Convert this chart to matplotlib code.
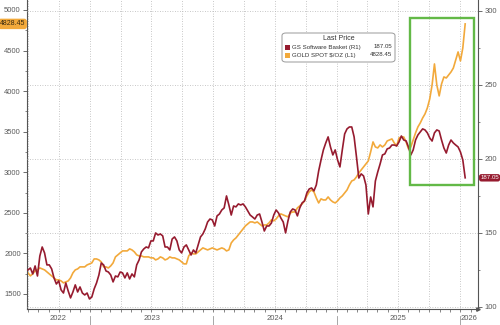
import matplotlib
matplotlib.use("Agg")
import matplotlib.pyplot as plt
import matplotlib.dates as mdates
from matplotlib.patches import Rectangle, FancyBboxPatch
from matplotlib.ticker import MultipleLocator, NullFormatter
import pandas as pd

plt.rcParams["font.family"] = ["Liberation Sans", "DejaVu Sans"]

# weekly closes, Jul 2022 -> mid Jan 2026
dates = pd.date_range("2022-07-01", periods=186, freq="7D")

gold = [
    1760, 1723, 1748, 1785, 1797, 1821, 1809, 1797, 1772, 1748,
    1723, 1698, 1674, 1674, 1661, 1637, 1649, 1661, 1698, 1760,
    1797, 1809, 1834, 1834, 1834, 1858, 1871, 1883, 1932, 1932,
    1920, 1895, 1834, 1834, 1821, 1846, 1883, 1957, 1982, 2006,
    2031, 2031, 2031, 2056, 2043, 2019, 1982, 1969, 1969, 1957,
    1957, 1957, 1945, 1945, 1920, 1932, 1957, 1945, 1920, 1932,
    1957, 1945, 1945, 1932, 1920, 1895, 1871, 1871, 1969, 2006,
    1994, 1994, 2019, 2043, 2068, 2056, 2043, 2056, 2068, 2056,
    2043, 2056, 2068, 2056, 2031, 2043, 2129, 2166, 2191, 2228,
    2265, 2302, 2339, 2364, 2388, 2388, 2376, 2388, 2364, 2339,
    2351, 2351, 2376, 2413, 2401, 2425, 2462, 2487, 2474, 2462,
    2450, 2499, 2511, 2511, 2561, 2585, 2610, 2647, 2709, 2758,
    2782, 2758, 2684, 2622, 2672, 2659, 2659, 2696, 2659, 2635,
    2622, 2647, 2684, 2709, 2745, 2782, 2844, 2893, 2906, 2943,
    2992, 3029, 3066, 3103, 3140, 3251, 3374, 3312, 3300, 3337,
    3312, 3337, 3386, 3398, 3411, 3361, 3325, 3423, 3435, 3435,
    3374, 3288, 3312, 3398, 3485, 3559, 3608, 3669, 3719, 3793,
    3904, 4076, 4335, 4076, 3941, 4088, 4175, 4162, 4199, 4236,
    4285, 4384, 4483, 4372, 4532, 4828.45,
]

gs_software = [
    124.8, 126.1, 122.1, 127.5, 120.7, 134.2, 140.3, 136.3, 128.2, 128.2,
    125.5, 119.4, 115.3, 117.4, 111.3, 109.2, 116.0, 110.6, 105.9, 109.9,
    114.7, 109.9, 113.3, 109.2, 107.9, 109.2, 105.2, 106.5, 112.0, 116.0,
    121.4, 129.5, 128.2, 124.1, 123.4, 121.4, 116.7, 120.7, 120.1, 123.4,
    122.8, 119.4, 122.8, 118.7, 122.1, 120.1, 128.2, 131.5, 137.0, 139.0,
    140.3, 139.7, 144.4, 144.4, 149.8, 148.4, 149.1, 147.8, 140.3, 140.3,
    138.3, 145.7, 147.1, 144.4, 138.3, 136.3, 140.3, 141.7, 138.3, 134.9,
    138.3, 136.3, 141.7, 147.1, 149.1, 152.5, 157.2, 159.2, 158.6, 154.5,
    161.3, 162.6, 165.3, 166.7, 174.8, 168.7, 161.9, 168.0, 167.4, 169.4,
    168.7, 169.4, 167.4, 164.7, 161.9, 160.6, 159.2, 161.9, 162.6, 157.2,
    151.1, 154.5, 154.5, 156.5, 161.9, 165.3, 163.3, 159.9, 157.2, 149.8,
    157.9, 164.0, 166.0, 165.3, 161.3, 166.7, 170.1, 171.4, 176.8, 179.5,
    180.2, 178.2, 182.2, 191.7, 199.1, 205.9, 210.6, 214.7, 207.9, 202.5,
    205.9, 199.1, 194.4, 205.9, 216.7, 220.1, 221.4, 221.4, 214.7, 201.2,
    186.9, 189.7, 188.3, 182.2, 162.6, 174.1, 167.4, 184.9, 191.0, 196.4,
    202.5, 203.2, 206.6, 207.2, 209.2, 209.2, 208.6, 211.3, 215.3, 212.6,
    212.0, 207.9, 202.5, 205.9, 212.6, 216.0, 218.0, 220.1, 219.4, 217.4,
    214.0, 211.9, 217.4, 219.4, 218.7, 212.6, 207.2, 203.8, 209.2, 212.6,
    210.6, 209.2, 207.9, 204.5, 199.1, 187.05,
]

years = ["2022", "2023", "2024", "2025", "2026"]
year_mid = ["2022-09-29", "2023-07-02", "2024-07-01", "2025-07-02", "2026-01-27"]
year_starts = ["2023-01-01", "2024-01-01", "2025-01-01", "2026-01-01"]

red = "#961b2f"
orange = "#f2a93b"
green = "#63b947"
axis_c = "#555555"
tick_c = "#5a5a5a"

fig = plt.figure(figsize=(5, 3.25), dpi=100)
ax = fig.add_axes([27 / 500, 1 - 309 / 325, 451 / 500, 309 / 325])
ax2 = ax.twinx()

ax.plot(dates, gold, color=orange, lw=1.2)
ax2.plot(dates, gs_software, color=red, lw=1.2)

ax.set_xlim(pd.Timestamp("2022-06-28"), pd.Timestamp("2026-02-23"))
ax.set_ylim(1315, 5123)
ax2.set_ylim(98.4, 307.2)

# left axis: gold
ax.yaxis.set_major_locator(MultipleLocator(500))
ax.yaxis.set_minor_locator(MultipleLocator(250))
ax.tick_params(axis="y", which="major", direction="out", length=3, width=0.6,
               color=axis_c, labelsize=5.5, labelcolor=tick_c, pad=1.5)
ax.tick_params(axis="y", which="minor", direction="out", length=1.5, width=0.5, color=axis_c)

# right axis: software basket
ax2.yaxis.set_major_locator(MultipleLocator(50))
ax2.yaxis.set_minor_locator(MultipleLocator(25))
ax2.tick_params(axis="y", which="major", direction="out", length=3, width=0.6,
                color=axis_c, labelsize=5.5, labelcolor=tick_c, pad=1.5)
ax2.tick_params(axis="y", which="minor", direction="out", length=1.5, width=0.5, color=axis_c)

# x axis: monthly ticks, quarterly grid, year labels in between
ax.xaxis.set_major_locator(mdates.MonthLocator(bymonth=[1, 4, 7, 10]))
ax.xaxis.set_minor_locator(mdates.MonthLocator())
ax.xaxis.set_major_formatter(NullFormatter())
ax.tick_params(axis="x", which="both", direction="out", length=2, width=0.5, color=axis_c)
ax.grid(axis="x", which="major", color="#b5b5b5", ls=(0, (1, 2)), lw=0.6)
ax2.grid(axis="y", which="major", color="#b5b5b5", ls=(0, (1, 2)), lw=0.6)

for a in (ax, ax2):
    a.spines["top"].set_visible(False)
    for s in ("left", "right", "bottom"):
        a.spines[s].set_color(axis_c)
        a.spines[s].set_linewidth(0.8)
ax.spines["right"].set_visible(False)
ax2.spines["left"].set_visible(False)
ax2.spines["bottom"].set_visible(False)

xt = ax.get_xaxis_transform()
for lbl, mid in zip(years, year_mid):
    ax.text(pd.Timestamp(mid), -0.03, lbl, transform=xt, ha="center", va="center",
            fontsize=5.5, color=tick_c)
for ys in year_starts:
    ax.plot([pd.Timestamp(ys)] * 2, [-0.024, -0.055], transform=xt, color="#999999",
            lw=0.6, clip_on=False)
ax.plot([1.0], [0.0], marker=">", ms=2.5, color=axis_c, transform=ax.transAxes, clip_on=False)

# last value tags on each axis
ax.text(-0.004, gold[-1], f"{gold[-1]:.2f}", transform=ax.get_yaxis_transform(),
        ha="right", va="center", fontsize=5, color="#3a2a10",
        bbox=dict(boxstyle="round,pad=0.25,rounding_size=0.4", fc=orange, ec="none"))
ax2.text(1.005, gs_software[-1], f"{gs_software[-1]:.2f}", transform=ax2.get_yaxis_transform(),
         ha="left", va="center", fontsize=4.4, color="white",
         bbox=dict(boxstyle="round,pad=0.2,rounding_size=0.4", fc=red, ec="none"))

# highlight around the recent divergence
x0 = mdates.date2num(pd.Timestamp("2025-08-07"))
x1 = mdates.date2num(pd.Timestamp("2026-02-11"))
ax2.add_patch(Rectangle((x0, 182.2), x1 - x0, 295.1 - 182.2, fill=False,
                        ec=green, lw=1.7, zorder=10, clip_on=False))

# legend box
fig.patches.append(FancyBboxPatch((282 / 500, 1 - 62 / 325), 113 / 500, 29 / 325,
                                  boxstyle="round,pad=0,rounding_size=0.008",
                                  transform=fig.transFigure, fc="white", ec="#9a9a9a",
                                  lw=0.7, zorder=20))
fig.text(338.5 / 500, 1 - 39 / 325, "Last Price", ha="center", va="center",
         fontsize=5, color="#333333", zorder=21)
rows = [("GS Software Basket (R1)", f"{gs_software[-1]:.2f}", red, 47),
        ("GOLD SPOT $/OZ (L1)", f"{gold[-1]:.2f}", orange, 55)]
for name, val, c, ypx in rows:
    fig.patches.append(Rectangle((285 / 500, 1 - (ypx + 2.5) / 325), 5 / 500, 5 / 325,
                                 transform=fig.transFigure, fc=c, ec="none", zorder=21))
    fig.text(292 / 500, 1 - ypx / 325, name, ha="left", va="center", fontsize=4.4,
             color="#333333", zorder=21)
    fig.text(392 / 500, 1 - ypx / 325, val, ha="right", va="center", fontsize=4.4,
             color="#333333", zorder=21)

fig.savefig("out.png", dpi=100)
